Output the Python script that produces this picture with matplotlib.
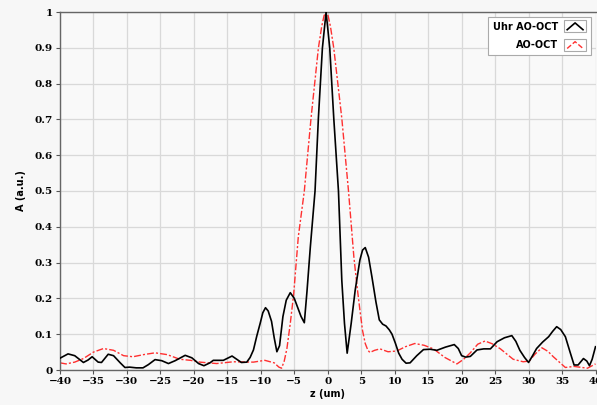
import matplotlib.pyplot as plt
from matplotlib.legend_handler import HandlerBase
from matplotlib.lines import Line2D
from matplotlib.patches import Rectangle

# Uhr AO-OCT (black)
uhr_z = [-40, -38.8, -37.8, -36.5, -35.8, -35.2, -34.3, -33.8, -32.8, -32.0, -31.0, -30.3,
         -29.6, -28.6, -27.6, -26.8, -25.8, -24.8, -23.8, -22.8, -21.3, -20.3, -19.3, -18.5,
         -17.6, -17.1, -15.6, -14.3, -13.6, -12.9, -12.1, -11.6, -11.1, -10.6, -10.1, -9.7,
         -9.3, -8.9, -8.4, -8.0, -7.6, -7.2, -6.7, -6.2, -5.6, -5.0, -4.5, -4.0, -3.5, -3.1,
         -2.6, -1.9, -1.4, -0.8, -0.25, 0.3, 0.9, 1.6, 2.1, 2.5, 2.9, 3.5, 4.1, 4.8, 5.2, 5.6,
         6.1, 6.6, 7.2, 7.7, 8.2, 8.7, 9.2, 9.6, 10.1, 10.6, 11.1, 11.7, 12.3, 13.3, 14.3,
         15.3, 16.3, 17.6, 18.9, 19.5, 20.0, 20.6, 21.3, 22.3, 23.3, 24.3, 25.3, 26.4, 27.5,
         28.1, 28.7, 29.4, 30.0, 30.6, 31.2, 32.1, 33.0, 33.6, 34.2, 34.8, 35.5, 36.2, 36.8,
         37.4, 38.2, 38.7, 39.1, 39.5, 40.0]
uhr_a = [0.033, 0.045, 0.040, 0.021, 0.028, 0.037, 0.022, 0.021, 0.044, 0.040, 0.020, 0.007,
         0.008, 0.006, 0.006, 0.015, 0.029, 0.026, 0.018, 0.026, 0.041, 0.034, 0.018, 0.012,
         0.020, 0.027, 0.027, 0.039, 0.030, 0.021, 0.022, 0.035, 0.056, 0.095, 0.130, 0.160,
         0.174, 0.165, 0.136, 0.090, 0.051, 0.068, 0.149, 0.195, 0.216, 0.200, 0.175, 0.150,
         0.132, 0.220, 0.344, 0.500, 0.703, 0.899, 1.000, 0.899, 0.703, 0.500, 0.250, 0.130,
         0.047, 0.130, 0.223, 0.307, 0.335, 0.342, 0.315, 0.260, 0.190, 0.140, 0.128, 0.123,
         0.112, 0.100, 0.075, 0.047, 0.030, 0.019, 0.020, 0.040, 0.057, 0.058, 0.055, 0.064,
         0.071, 0.060, 0.040, 0.036, 0.038, 0.056, 0.059, 0.059, 0.079, 0.090, 0.096, 0.080,
         0.055, 0.035, 0.021, 0.040, 0.060, 0.078, 0.093, 0.108, 0.121, 0.113, 0.093, 0.050,
         0.014, 0.014, 0.032, 0.025, 0.012, 0.030, 0.065]

# AO-OCT (red)
ao_z = [-40, -39.1, -37.8, -36.5, -35.0, -33.5, -32.0, -30.5, -29.1, -27.5, -25.8, -24.0,
        -22.1, -20.5, -19.1, -16.6, -14.1, -11.1, -9.4, -8.0, -7.3, -6.9, -6.5, -6.1, -5.6,
        -5.1, -4.4, -3.5, -2.5, -1.4, -0.9, -0.55, -0.25, 0.05, 0.4, 0.9, 2.1, 3.1, 3.9, 4.4,
        4.8, 5.2, 5.6, 6.0, 6.3, 7.0, 7.8, 9.0, 10.3, 11.6, 13.0, 14.4, 15.8, 17.5, 19.3,
        20.3, 21.3, 22.4, 23.5, 24.6, 25.8, 27.7, 29.2, 30.1, 31.0, 32.0, 32.9, 33.7, 35.5,
        36.8, 38.8, 40.0]
ao_a = [0.020, 0.017, 0.022, 0.032, 0.050, 0.060, 0.055, 0.040, 0.037, 0.043, 0.048, 0.043,
        0.030, 0.027, 0.022, 0.018, 0.023, 0.022, 0.027, 0.020, 0.008, 0.005, 0.025, 0.060,
        0.130, 0.210, 0.372, 0.500, 0.703, 0.899, 0.960, 0.990, 1.000, 0.990, 0.960, 0.899,
        0.703, 0.500, 0.316, 0.230, 0.168, 0.110, 0.074, 0.055, 0.049, 0.055, 0.059, 0.051,
        0.053, 0.065, 0.074, 0.069, 0.059, 0.035, 0.017, 0.030, 0.048, 0.072, 0.081, 0.073,
        0.059, 0.030, 0.023, 0.025, 0.045, 0.062, 0.052, 0.037, 0.007, 0.010, 0.005, 0.017]

x_ticks = list(range(-40, 41, 5))
y_ticks = [0, 0.1, 0.2, 0.3, 0.4, 0.5, 0.6, 0.7, 0.8, 0.9, 1]
y_labels = ["0", "0.1", "0.2", "0.3", "0.4", "0.5", "0.6", "0.7", "0.8", "0.9", "1"]


class CaretHandler(HandlerBase):
    # little framed box with a "^" sample, like the original legend
    def create_artists(self, legend, orig_handle, xdescent, ydescent, width, height,
                       fontsize, trans):
        box = Rectangle((-xdescent, -ydescent - 2), width, height + 4, facecolor="white",
                        edgecolor="#aaaaaa", linewidth=0.8, transform=trans)
        line = Line2D([-xdescent + 2, -xdescent + width / 2, -xdescent + width - 2],
                      [-ydescent, -ydescent + height, -ydescent],
                      color=orig_handle.get_color(), linestyle=orig_handle.get_linestyle(),
                      linewidth=orig_handle.get_linewidth(), transform=trans)
        return [box, line]


plt.rcParams["font.family"] = "DejaVu Sans"
plt.rcParams["font.weight"] = "bold"

fig = plt.figure(figsize=(5.97, 4.05), dpi=100, facecolor="#f7f7f7")
ax = fig.add_axes([60 / 597, 35 / 405, 535.5 / 597, 358 / 405])
ax.set_facecolor("#f9f9f9")

l1, = ax.plot(uhr_z, uhr_a, color="black", linewidth=1.2, label="Uhr AO-OCT", zorder=3)
l2, = ax.plot(ao_z, ao_a, color="#ff3030", linewidth=1.0, linestyle=(0, (5, 1.5, 1.5, 1.5)),
              label="AO-OCT", zorder=2)

ax.set_xlim(-40, 40)
ax.set_ylim(0, 1)
ax.set_xticks(x_ticks)
ax.set_yticks(y_ticks)
ax.set_yticklabels(y_labels)
ax.tick_params(labelsize=7.5, length=3, width=0.8, color="#555555", pad=2)
for lab in ax.get_xticklabels() + ax.get_yticklabels():
    lab.set_family("DejaVu Serif")
    lab.set_fontweight("bold")
ax.grid(True, color="#d9d9d9", linewidth=0.9)
ax.set_axisbelow(True)

for side in ["left", "top", "bottom"]:
    ax.spines[side].set_color("#666666")
    ax.spines[side].set_linewidth(1.0)
ax.spines["right"].set_visible(False)

ax.set_xlabel("z (um)", fontsize=7, fontweight="bold", labelpad=2)
ax.set_ylabel("A (a.u.)", fontsize=7, fontweight="bold", labelpad=6)

leg = ax.legend(handles=[l1, l2], loc="upper right", markerfirst=False, fontsize=7,
                handler_map={Line2D: CaretHandler()}, fancybox=False, framealpha=1,
                edgecolor="#aaaaaa", handlelength=2.2, handletextpad=0.6,
                borderaxespad=0.5, labelspacing=0.9, borderpad=0.5)
leg.get_frame().set_linewidth(0.8)

plt.savefig("out.png", dpi=100, facecolor=fig.get_facecolor())
